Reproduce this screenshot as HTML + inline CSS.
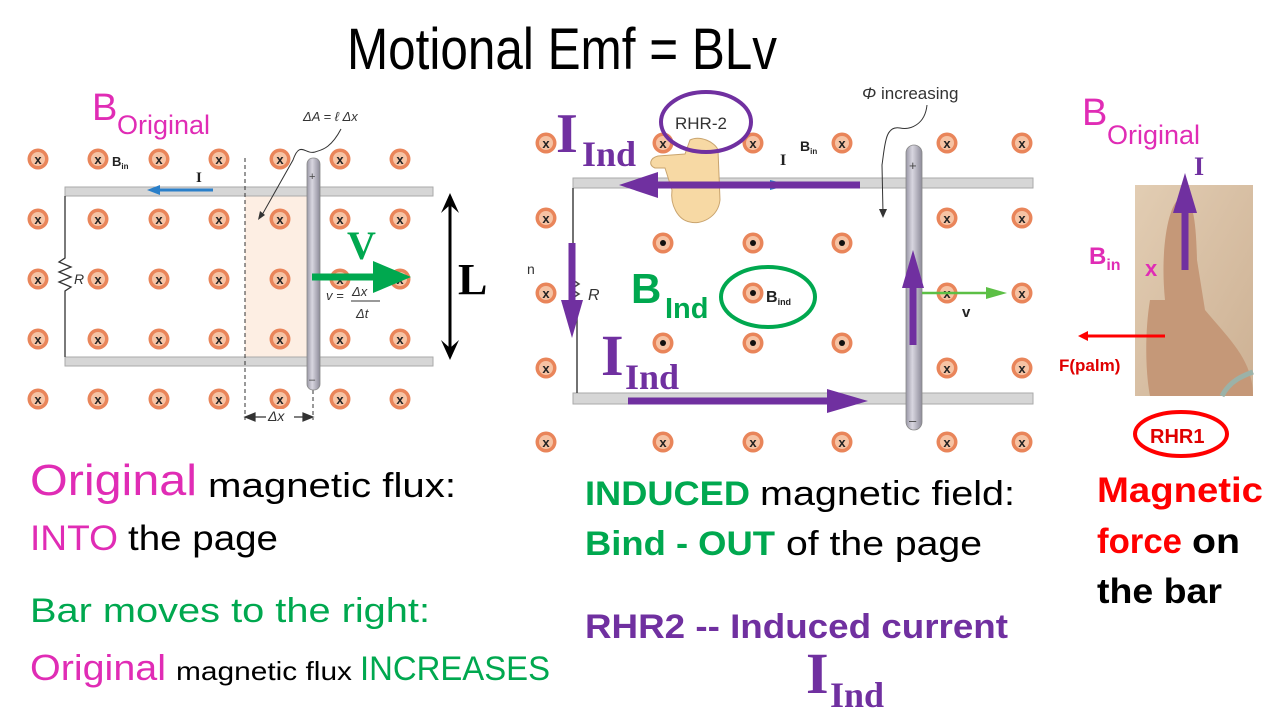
<!DOCTYPE html>
<html><head><meta charset="utf-8"><style>
html,body{margin:0;padding:0;background:#fff;}
svg{display:block;}
text{font-family:"Liberation Sans",sans-serif;}
.serif{font-family:"Liberation Serif",serif;font-weight:bold;}
</style></head><body>
<svg width="1280" height="720" viewBox="0 0 1280 720" xmlns="http://www.w3.org/2000/svg">
<defs>
<g id="cx"><circle r="10.5" fill="#e9855a"/><circle r="7" fill="#f6c3a4"/><text x="0" y="5" font-size="13" font-weight="bold" text-anchor="middle" fill="#222">x</text></g>
<g id="cd"><circle r="10.5" fill="#e9855a"/><circle r="7" fill="#f6c3a4"/><circle r="3" fill="#111"/></g>
<linearGradient id="bar" x1="0" x2="1"><stop offset="0" stop-color="#9a98a6"/><stop offset="0.4" stop-color="#d8d6e0"/><stop offset="1" stop-color="#8d8b99"/></linearGradient>
<linearGradient id="photo" x1="0" x2="1" y1="0" y2="1"><stop offset="0" stop-color="#e2cdb3"/><stop offset="1" stop-color="#cdb194"/></linearGradient>
</defs>

<text x="347" y="69" font-size="58" textLength="430" lengthAdjust="spacingAndGlyphs" fill="#000">Motional Emf = BLv</text>

<!-- LEFT DIAGRAM -->
<rect x="245" y="196" width="62" height="161" fill="#fdeee3"/>
<g>
<use href="#cx" x="38" y="159"/><use href="#cx" x="98" y="159"/><use href="#cx" x="159" y="159"/><use href="#cx" x="219" y="159"/><use href="#cx" x="280" y="159"/><use href="#cx" x="340" y="159"/><use href="#cx" x="400" y="159"/>
<use href="#cx" x="38" y="219"/><use href="#cx" x="98" y="219"/><use href="#cx" x="159" y="219"/><use href="#cx" x="219" y="219"/><use href="#cx" x="280" y="219"/><use href="#cx" x="340" y="219"/><use href="#cx" x="400" y="219"/>
<use href="#cx" x="38" y="279"/><use href="#cx" x="98" y="279"/><use href="#cx" x="159" y="279"/><use href="#cx" x="219" y="279"/><use href="#cx" x="280" y="279"/><use href="#cx" x="340" y="279"/><use href="#cx" x="400" y="279"/>
<use href="#cx" x="38" y="339"/><use href="#cx" x="98" y="339"/><use href="#cx" x="159" y="339"/><use href="#cx" x="219" y="339"/><use href="#cx" x="280" y="339"/><use href="#cx" x="340" y="339"/><use href="#cx" x="400" y="339"/>
<use href="#cx" x="38" y="399"/><use href="#cx" x="98" y="399"/><use href="#cx" x="159" y="399"/><use href="#cx" x="219" y="399"/><use href="#cx" x="280" y="399"/><use href="#cx" x="340" y="399"/><use href="#cx" x="400" y="399"/>
</g>
<text x="112" y="166" font-size="13" font-weight="bold" fill="#222">B<tspan font-size="8" dy="3">in</tspan></text>
<rect x="65" y="187" width="368" height="9" fill="#d6d6d6" stroke="#aaa" stroke-width="1"/>
<rect x="65" y="357" width="368" height="9" fill="#d6d6d6" stroke="#aaa" stroke-width="1"/>
<path d="M65 196 V258 l-6 4 l12 5 l-12 5 l12 5 l-12 5 l12 5 l-6 4 V357" fill="none" stroke="#333" stroke-width="1.3"/>
<text x="74" y="284" font-size="14" font-style="italic" fill="#333">R</text>
<path d="M213 190 H160" stroke="#2a7fc9" stroke-width="3"/><path d="M160 185 L147 190 L160 195 Z" fill="#2a7fc9"/>
<text x="196" y="182" class="serif" font-size="15" fill="#222">I</text>
<line x1="245" y1="158" x2="245" y2="420" stroke="#333" stroke-dasharray="4,3" stroke-width="1"/>
<line x1="313" y1="390" x2="313" y2="420" stroke="#333" stroke-dasharray="4,3" stroke-width="1"/>
<path d="M245 417 H313 M245 417 l10 -4 v8 z M313 417 l-10 -4 v8 z" stroke="#333" fill="#333" stroke-width="1.2"/>
<rect x="266" y="409" width="28" height="14" fill="#fff"/>
<text x="268" y="421" font-size="14" font-style="italic" fill="#333">Δx</text>
<text x="303" y="121" font-size="13" font-style="italic" fill="#333">ΔA = ℓ Δx</text>
<path d="M341 129 C330 150 320 150 315 152 C305 155 300 140 293 160 L262 215" fill="none" stroke="#333" stroke-width="1"/>
<path d="M258 220 l2 -9 l5 4 z" fill="#333"/>
<rect x="307" y="158" width="13" height="232" rx="6" fill="url(#bar)" stroke="#888" stroke-width="0.8"/>
<text x="309" y="180" font-size="11" fill="#444">+</text>
<text x="309" y="383" font-size="11" fill="#444">–</text>
<text x="326" y="300" font-size="13" font-style="italic" fill="#333">v =</text>
<text x="352" y="296" font-size="13" font-style="italic" fill="#333">Δx</text>
<line x1="351" y1="301" x2="380" y2="301" stroke="#333"/>
<text x="356" y="318" font-size="13" font-style="italic" fill="#333">Δt</text>
<path d="M312 277 H377" stroke="#00a84f" stroke-width="7"/><path d="M373 261 L411 277 L373 293 Z" fill="#00a84f"/>
<text x="347" y="259" class="serif" font-size="40" fill="#00a84f">V</text>
<path d="M450 196 V357" stroke="#000" stroke-width="3"/>
<path d="M450 193 l-9 20 l9 -8 l9 8 z M450 360 l-9 -20 l9 8 l9 -8 z" fill="#000"/>
<text x="458" y="294" class="serif" font-size="44" fill="#000">L</text>
<text x="92" y="120" font-size="38" fill="#e02cb5">B</text>
<text x="117" y="134" font-size="27" fill="#e02cb5">Original</text>

<!-- MIDDLE DIAGRAM -->
<g>
<use href="#cx" x="546" y="143"/><use href="#cx" x="663" y="143"/><use href="#cx" x="753" y="143"/><use href="#cx" x="842" y="143"/><use href="#cx" x="947" y="143"/><use href="#cx" x="1022" y="143"/>
<use href="#cx" x="546" y="218"/><use href="#cx" x="947" y="218"/><use href="#cx" x="1022" y="218"/>
<use href="#cd" x="663" y="243"/><use href="#cd" x="753" y="243"/><use href="#cd" x="842" y="243"/>
<use href="#cx" x="546" y="293"/><use href="#cd" x="753" y="293"/><use href="#cx" x="947" y="293"/><use href="#cx" x="1022" y="293"/>
<use href="#cd" x="663" y="343"/><use href="#cd" x="753" y="343"/><use href="#cd" x="842" y="343"/>
<use href="#cx" x="546" y="368"/><use href="#cx" x="947" y="368"/><use href="#cx" x="1022" y="368"/>
<use href="#cx" x="546" y="442"/><use href="#cx" x="663" y="442"/><use href="#cx" x="753" y="442"/><use href="#cx" x="842" y="442"/><use href="#cx" x="947" y="442"/><use href="#cx" x="1022" y="442"/>
</g>
<text x="800" y="151" font-size="14" font-weight="bold" fill="#222">B<tspan font-size="8" dy="3">in</tspan></text>
<rect x="573" y="178" width="460" height="10" fill="#d6d6d6" stroke="#aaa" stroke-width="1"/>
<rect x="573" y="393" width="460" height="11" fill="#d6d6d6" stroke="#aaa" stroke-width="1"/>
<path d="M573 188 V280 l6 4 l-8 5 l8 5 l-8 5 l6 4 V393" fill="none" stroke="#444" stroke-width="1.5"/>
<text x="588" y="300" font-size="16" font-style="italic" fill="#333">R</text>
<text x="527" y="274" font-size="14" fill="#333">n</text>
<path d="M690 140 C700 135 715 142 718 150 L720 200 C718 218 700 225 690 222 C678 220 670 205 672 190 L665 168 L655 168 C648 165 650 158 658 156 L685 154 Z" fill="#f7d9a4" stroke="#c9a46e" stroke-width="1"/>
<text x="780" y="165" class="serif" font-size="16" fill="#222">I</text>
<path d="M790 185 L770 180 V190 Z" fill="#2a7fc9"/>
<rect x="906" y="145" width="16" height="285" rx="8" fill="url(#bar)" stroke="#888" stroke-width="0.8"/>
<text x="909" y="170" font-size="13" fill="#444">+</text>
<text x="909" y="425" font-size="13" fill="#444">–</text>
<text x="862" y="99" font-size="17" fill="#333"><tspan font-style="italic">Φ</tspan> increasing</text>
<path d="M927 105 C925 125 910 130 900 128 C885 125 885 145 882 165 L883 213" fill="none" stroke="#333" stroke-width="1"/>
<path d="M879 209 l4 9 l4 -9 z" fill="#333"/>
<path d="M922 293 H990" stroke="#5cbf45" stroke-width="2.5"/><path d="M986 287 L1007 293 L986 299 Z" fill="#5cbf45"/>
<text x="962" y="317" font-size="15" font-weight="bold" fill="#222">v</text>
<path d="M860 185 H655" stroke="#7030a0" stroke-width="7"/><path d="M658 172 L619 185 L658 198 Z" fill="#7030a0"/>
<path d="M572 243 V305" stroke="#7030a0" stroke-width="7"/><path d="M561 300 L572 338 L583 300 Z" fill="#7030a0"/>
<path d="M628 401 H830" stroke="#7030a0" stroke-width="7"/><path d="M827 389 L868 401 L827 413 Z" fill="#7030a0"/>
<path d="M913 345 V285" stroke="#7030a0" stroke-width="7"/><path d="M902 288 L913 250 L924 288 Z" fill="#7030a0"/>
<ellipse cx="706" cy="122" rx="45" ry="30" fill="none" stroke="#7030a0" stroke-width="4"/>
<text x="675" y="129" font-size="17" fill="#333">RHR-2</text>
<ellipse cx="768" cy="297" rx="47" ry="30" fill="none" stroke="#00a84f" stroke-width="4"/>
<text x="766" y="302" font-size="16" font-weight="bold" fill="#222">B<tspan font-size="9" dy="3">ind</tspan></text>
<text x="556" y="152" class="serif" font-size="56" fill="#7030a0">I</text>
<text x="582" y="166" class="serif" font-size="36" fill="#7030a0">Ind</text>
<text x="601" y="375" class="serif" font-size="58" fill="#7030a0">I</text>
<text x="625" y="389" class="serif" font-size="36" fill="#7030a0">Ind</text>
<text x="631" y="303" font-size="42" font-weight="bold" fill="#00a84f">B</text>
<text x="665" y="318" font-size="29" font-weight="bold" fill="#00a84f">Ind</text>

<!-- RIGHT -->
<rect x="1135" y="185" width="118" height="211" fill="url(#photo)"/>
<path d="M1165 300 C1160 250 1168 205 1180 198 C1192 195 1196 215 1197 260 L1205 310 C1230 340 1253 360 1253 396 H1150 C1145 370 1145 330 1150 300 Z" fill="#c59878"/>
<path d="M1222 396 C1230 380 1245 375 1253 372" stroke="#9bb2a8" stroke-width="5" fill="none"/>
<path d="M1185 270 V210" stroke="#7030a0" stroke-width="7"/><path d="M1173 213 L1185 173 L1197 213 Z" fill="#7030a0"/>
<text x="1194" y="175" class="serif" font-size="26" fill="#7030a0">I</text>
<text x="1089" y="264" font-size="24" font-weight="bold" fill="#e02cb5">B<tspan font-size="16" dy="6">in</tspan></text>
<text x="1145" y="276" font-size="22" font-weight="bold" fill="#e02cb5">x</text>
<path d="M1165 336 H1085" stroke="#ff0000" stroke-width="3"/><path d="M1088 331 L1078 336 L1088 341 Z" fill="#ff0000"/>
<text x="1059" y="371" font-size="17" font-weight="bold" fill="#e00000">F(palm)</text>
<ellipse cx="1181" cy="434" rx="46" ry="22" fill="none" stroke="#ff0000" stroke-width="4"/>
<text x="1150" y="443" font-size="20" font-weight="bold" fill="#e00000">RHR1</text>
<text x="1082" y="125" font-size="38" fill="#e02cb5">B</text>
<text x="1107" y="144" font-size="27" fill="#e02cb5">Original</text>

<!-- Bottom texts left -->
<text x="30" y="495" font-size="44" fill="#e02cb5" textLength="167" lengthAdjust="spacingAndGlyphs">Original</text>
<text x="208" y="497" font-size="34" fill="#000" textLength="248" lengthAdjust="spacingAndGlyphs">magnetic flux:</text>
<text x="30" y="550" font-size="35" fill="#e02cb5" textLength="88" lengthAdjust="spacingAndGlyphs">INTO</text>
<text x="128" y="550" font-size="35" fill="#000" textLength="150" lengthAdjust="spacingAndGlyphs">the page</text>
<text x="30" y="622" font-size="34" fill="#00a84f" textLength="400" lengthAdjust="spacingAndGlyphs">Bar moves to the right:</text>
<text x="30" y="680" font-size="36" fill="#e02cb5" textLength="136" lengthAdjust="spacingAndGlyphs">Original</text>
<text x="176" y="680" font-size="26" fill="#000" textLength="176" lengthAdjust="spacingAndGlyphs">magnetic flux</text>
<text x="360" y="680" font-size="34" fill="#00a84f" textLength="190" lengthAdjust="spacingAndGlyphs">INCREASES</text>

<!-- Bottom texts middle -->
<text x="585" y="505" font-size="34" font-weight="bold" fill="#00a84f" textLength="165" lengthAdjust="spacingAndGlyphs">INDUCED</text>
<text x="760" y="505" font-size="34" fill="#000" textLength="255" lengthAdjust="spacingAndGlyphs">magnetic field:</text>
<text x="585" y="555" font-size="34" font-weight="bold" fill="#00a84f" textLength="190" lengthAdjust="spacingAndGlyphs">Bind - OUT</text>
<text x="786" y="555" font-size="34" fill="#000" textLength="196" lengthAdjust="spacingAndGlyphs">of the page</text>
<text x="585" y="638" font-size="34" font-weight="bold" fill="#7030a0" textLength="423" lengthAdjust="spacingAndGlyphs">RHR2 -- Induced current</text>
<text x="806" y="693" class="serif" font-size="58" fill="#7030a0">I</text>
<text x="830" y="707" class="serif" font-size="36" fill="#7030a0">Ind</text>

<!-- Bottom texts right -->
<text x="1097" y="502" font-size="35" font-weight="bold" fill="#ff0000" textLength="166" lengthAdjust="spacingAndGlyphs">Magnetic</text>
<text x="1097" y="553" font-size="35" font-weight="bold" fill="#ff0000" textLength="85" lengthAdjust="spacingAndGlyphs">force</text>
<text x="1192" y="553" font-size="35" font-weight="bold" fill="#000" textLength="48" lengthAdjust="spacingAndGlyphs">on</text>
<text x="1097" y="603" font-size="35" font-weight="bold" fill="#000" textLength="125" lengthAdjust="spacingAndGlyphs">the bar</text>
</svg>
</body></html>
